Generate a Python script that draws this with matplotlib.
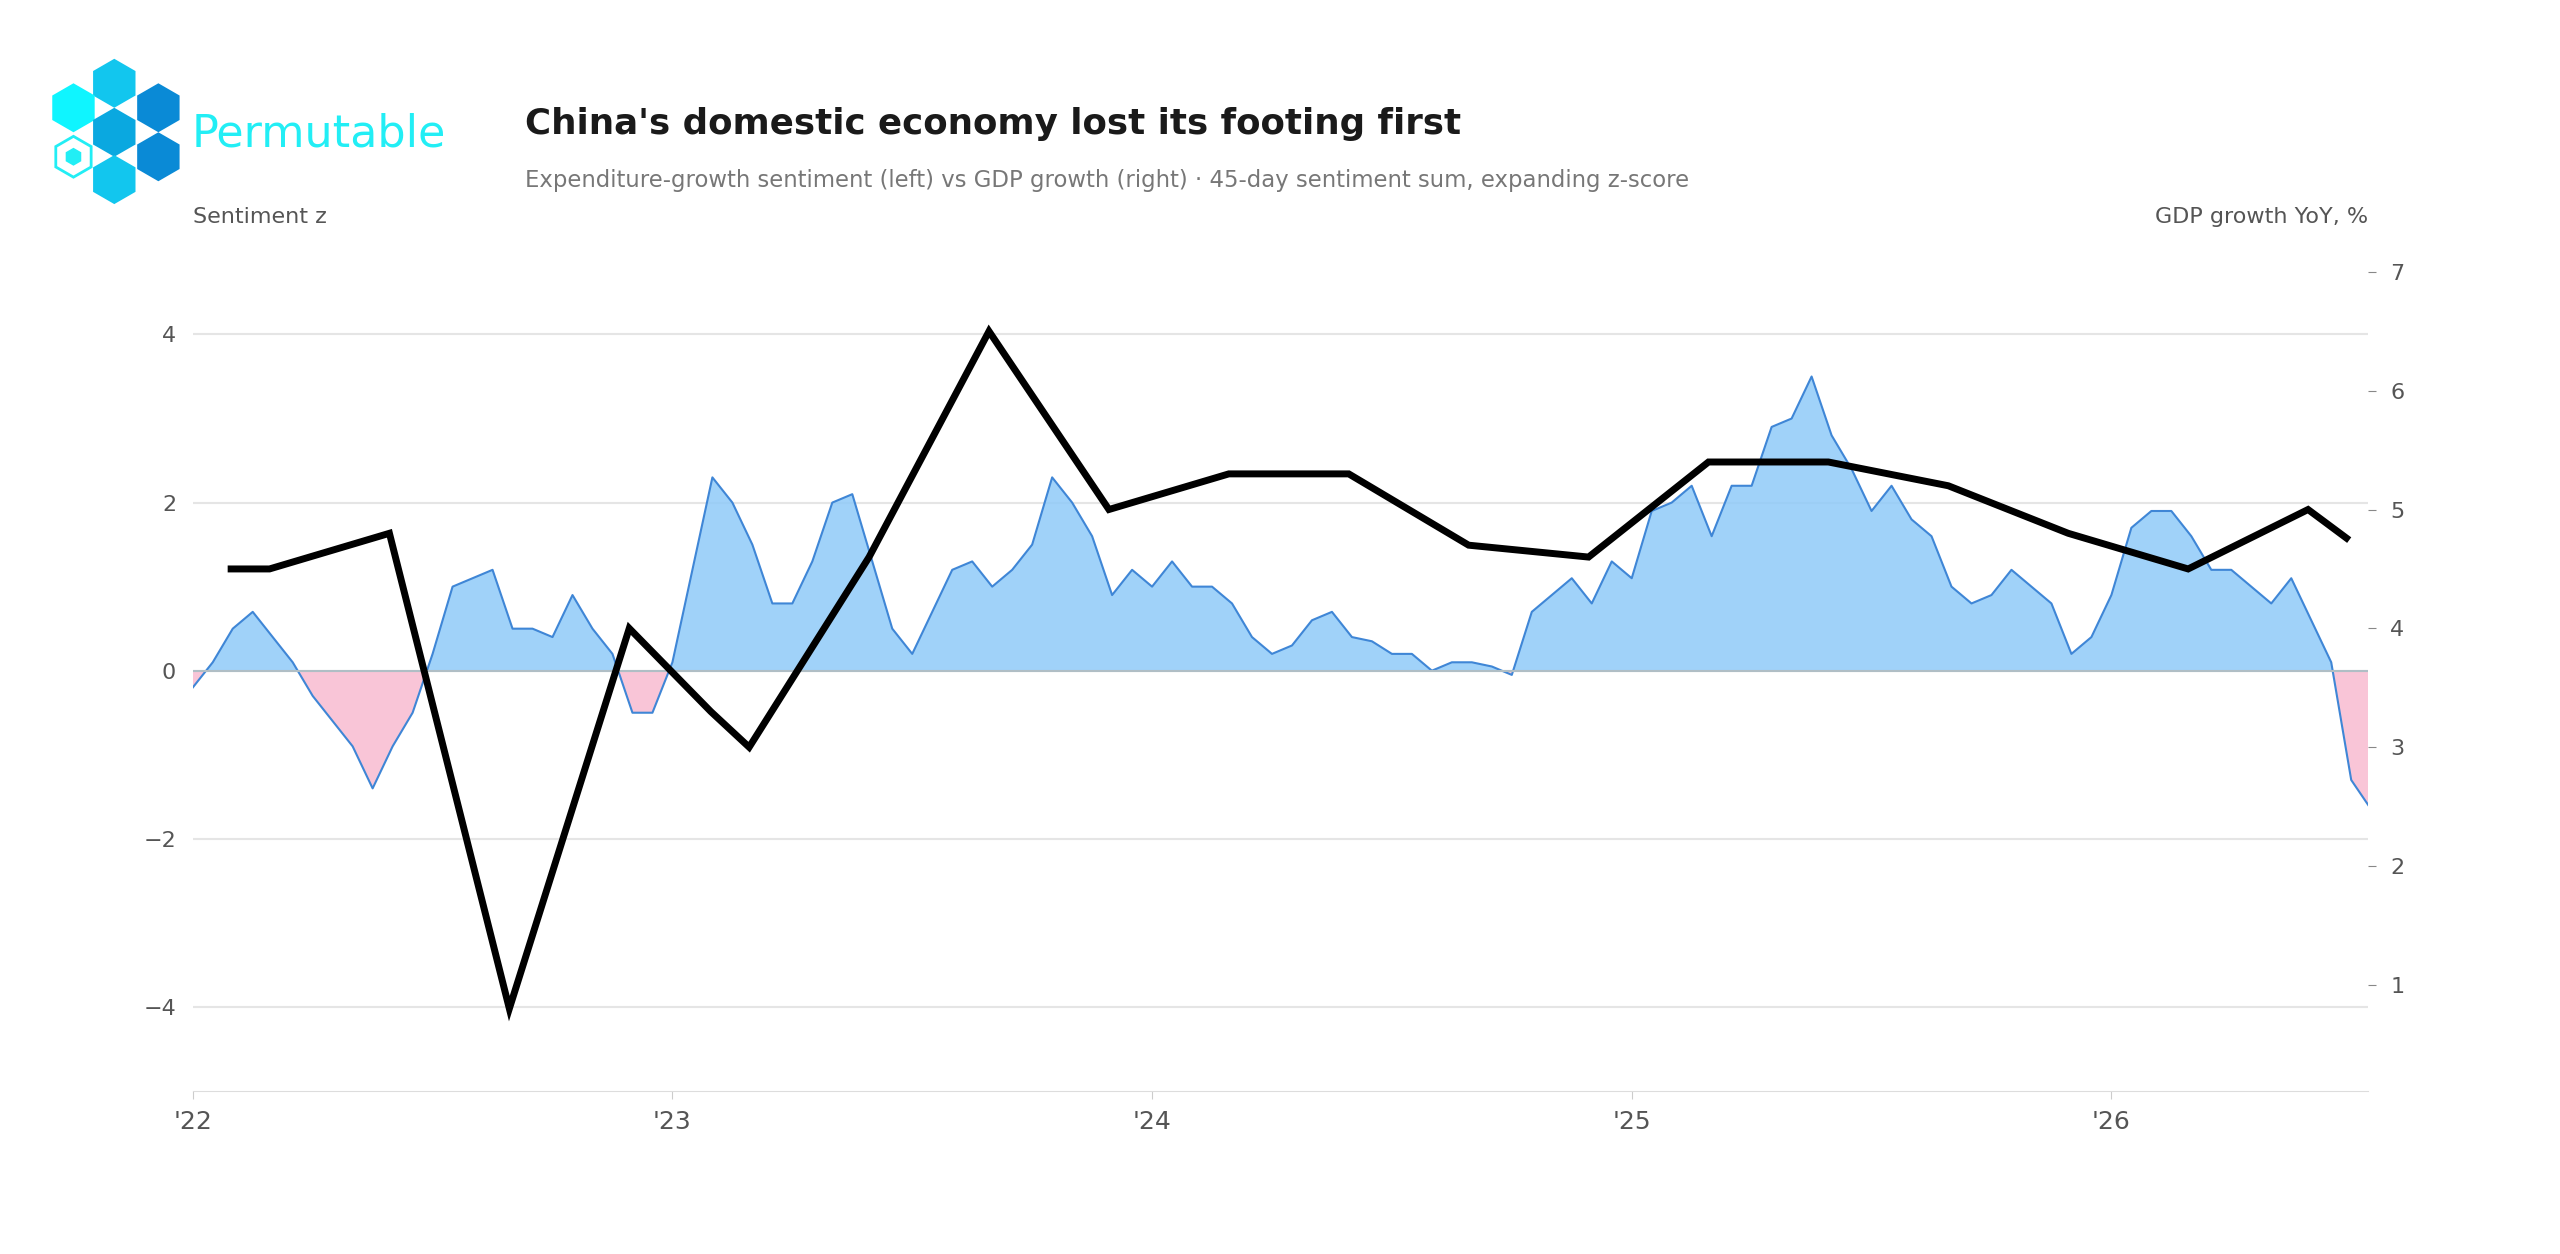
import numpy as np
import matplotlib.pyplot as plt
from matplotlib.patches import RegularPolygon

# sentiment z, read every half month from Jan 2022 to mid 2026
sent = [-0.2, 0.1, 0.5, 0.7, 0.4, 0.1, -0.3, -0.6, -0.9, -1.4, -0.9, -0.5,
        0.2, 1.0, 1.1, 1.2, 0.5, 0.5, 0.4, 0.9, 0.5, 0.2, -0.5, -0.5,
        0.1, 1.2, 2.3, 2.0, 1.5, 0.8, 0.8, 1.3, 2.0, 2.1, 1.3, 0.5,
        0.2, 0.7, 1.2, 1.3, 1.0, 1.2, 1.5, 2.3, 2.0, 1.6, 0.9, 1.2,
        1.0, 1.3, 1.0, 1.0, 0.8, 0.4, 0.2, 0.3, 0.6, 0.7, 0.4, 0.35,
        0.2, 0.2, 0.0, 0.1, 0.1, 0.05, -0.05, 0.7, 0.9, 1.1, 0.8, 1.3,
        1.1, 1.9, 2.0, 2.2, 1.6, 2.2, 2.2, 2.9, 3.0, 3.5, 2.8, 2.4,
        1.9, 2.2, 1.8, 1.6, 1.0, 0.8, 0.9, 1.2, 1.0, 0.8, 0.2, 0.4,
        0.9, 1.7, 1.9, 1.9, 1.6, 1.2, 1.2, 1.0, 0.8, 1.1, 0.6, 0.1,
        -1.3, -1.65]
sent_x = 2022 + np.arange(len(sent)) / 24.0

gdp_x = [2022.08, 2022.16, 2022.41, 2022.66, 2022.91, 2023.08, 2023.16, 2023.41,
         2023.66, 2023.91, 2024.16, 2024.41, 2024.66, 2024.91, 2025.16, 2025.41,
         2025.66, 2025.91, 2026.16, 2026.41, 2026.49]
gdp = [4.5, 4.5, 4.8, 0.8, 4.0, 3.3, 3.0, 4.6, 6.5, 5.0, 5.3, 5.3, 4.7, 4.6,
       5.4, 5.4, 5.2, 4.8, 4.5, 5.0, 4.76]

years = [2022, 2023, 2024, 2025, 2026]
year_labels = ["'22", "'23", "'24", "'25", "'26"]

fig = plt.figure(figsize=(25.6, 12.54), dpi=100)
ax = fig.add_axes([0.0753, 0.130, 0.8497, 0.675])
s = np.array(sent)
ax.fill_between(sent_x, s, 0, where=s >= 0, interpolate=True, color='#90CAF9', alpha=0.85, lw=0)
ax.fill_between(sent_x, s, 0, where=s <= 0, interpolate=True, color='#F8BBD0', alpha=0.85, lw=0)
ax.plot(sent_x, s, color='#3F86D6', lw=1.5)
ax.axhline(0, color='#b0bec5', lw=1.5)
ax.set_xlim(2022, 2026.535)
ax.set_ylim(-5, 5.07)
ax.set_yticks([-4, -2, 0, 2, 4])
ax.set_yticklabels(['\u22124', '\u22122', '0', '2', '4'])
ax.grid(axis='y', color='#e5e5e5', lw=1.5)
ax.set_axisbelow(True)
ax.set_xticks(years)
ax.set_xticklabels(year_labels)
ax.tick_params(axis='y', length=0, labelsize=16, labelcolor='#555555', pad=12)
ax.tick_params(axis='x', length=6, color='#cccccc', labelsize=18, labelcolor='#555555', pad=8)
for sp in ['top', 'right', 'left']:
    ax.spines[sp].set_visible(False)
ax.spines['bottom'].set_color('#dddddd')

ax2 = ax.twinx()
ax2.plot(gdp_x, gdp, color='black', lw=5, solid_joinstyle='miter')
ax2.set_ylim(0.107, 7.23)
ax2.set_yticks([1, 2, 3, 4, 5, 6, 7])
ax2.tick_params(axis='y', length=6, color='#888888', labelsize=16, labelcolor='#555555', pad=10)
for sp in ax2.spines.values():
    sp.set_visible(False)

fig.text(0.0753, 0.827, 'Sentiment z', fontsize=16, color='#555555', va='center')
fig.text(0.925, 0.827, 'GDP growth YoY, %', fontsize=16, color='#555555', va='center', ha='right')
fig.text(0.205, 0.901, "China's domestic economy lost its footing first", fontsize=25.7,
         fontweight='bold', color='#1a1a1a', va='center')
fig.text(0.205, 0.856, 'Expenditure-growth sentiment (left) vs GDP growth (right) \u00b7 45-day sentiment sum, expanding z-score',
         fontsize=16.4, color='#777777', va='center')
fig.text(0.075, 0.893, 'Permutable', fontsize=32, color='#22EEF5', va='center')

# logo hexagons
lg = fig.add_axes([0, 0.8, 0.1, 0.2])
lg.set_xlim(0, 156.8)
lg.set_ylim(153.6, 0)
lg.axis('off')
hexes = [(70, 51, '#12C6EE', True), (45, 66, '#0FF5FF', True), (97, 66, '#0A8AD6', True),
         (70, 81, '#0AA8E0', True), (45, 96, '#22EEF5', False), (97, 96, '#0A8AD6', True),
         (70, 110, '#12C6EE', True)]
for hx, hy, c, filled in hexes:
    if filled:
        lg.add_patch(RegularPolygon((hx, hy), 6, radius=15, facecolor=c, edgecolor='none'))
    else:
        lg.add_patch(RegularPolygon((hx, hy), 6, radius=12.5, facecolor='none', edgecolor=c, lw=2))
        lg.add_patch(RegularPolygon((hx, hy), 6, radius=5.5, facecolor=c, edgecolor='none'))

fig.savefig('out.png', dpi=100)
